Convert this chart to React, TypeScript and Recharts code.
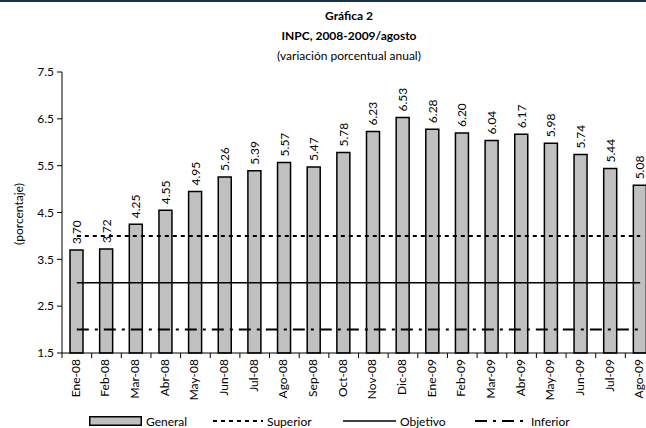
// INPC bar chart with target band lines (Superior / Objetivo / Inferior).
// Excel-style look: grey bars with black outline, rotated value labels,
// month ticks sitting on the category boundaries.

import { Bar, ComposedChart, LabelList, Line, XAxis, YAxis } from "recharts";

const MONTHS = [
  "Ene-08", "Feb-08", "Mar-08", "Abr-08", "May-08", "Jun-08", "Jul-08",
  "Ago-08", "Sep-08", "Oct-08", "Nov-08", "Dic-08", "Ene-09", "Feb-09",
  "Mar-09", "Abr-09", "May-09", "Jun-09", "Jul-09", "Ago-09",
];
const GENERAL = [
  3.70, 3.72, 4.25, 4.55, 4.95, 5.26, 5.39, 5.57, 5.47, 5.78,
  6.23, 6.53, 6.28, 6.20, 6.04, 6.17, 5.98, 5.74, 5.44, 5.08,
];
const SUPERIOR = MONTHS.map(() => 4);
const OBJETIVO = MONTHS.map(() => 3);
const INFERIOR = MONTHS.map(() => 2);
const Y_TICKS = [1.5, 2.5, 3.5, 4.5, 5.5, 6.5, 7.5];

const FONT = "Lato, 'Liberation Sans', sans-serif";

const data = MONTHS.map((m, i) => ({
  mes: m,
  general: GENERAL[i],
  superior: SUPERIOR[i],
  objetivo: OBJETIVO[i],
  inferior: INFERIOR[i],
}));

function MonthTick(props: any) {
  const { x, y, payload, index } = props;
  const half = payload?.offset || 14.8;
  const tx = x - 1.5;
  return (
    <g>
      <line x1={x + half} x2={x + half} y1={y} y2={y + 5} stroke="#000" />
      {index === 0 && <line x1={x - half} x2={x - half} y1={y} y2={y + 5} stroke="#000" />}
      <text
        x={tx}
        y={y + 6}
        transform={`rotate(-90 ${tx} ${y + 6})`}
        textAnchor="end"
        dominantBaseline="central"
        fontSize={12}
        fontFamily={FONT}
        fill="#000"
      >
        {payload.value}
      </text>
    </g>
  );
}

function ValueLabel(props: any) {
  const { x, y, width, value } = props;
  const cx = x + width / 2;
  const ty = y - 6;
  return (
    <text
      x={cx}
      y={ty}
      transform={`rotate(-90 ${cx} ${ty})`}
      textAnchor="start"
      dominantBaseline="central"
      fontSize={12}
      fontFamily={FONT}
      fill="#000"
    >
      {Number(value).toFixed(2)}
    </text>
  );
}

function LegendItem({ left, label, icon }: { left: number; label: string; icon: any }) {
  return (
    <div style={{ position: "absolute", left, top: 413, display: "flex", alignItems: "center", height: 16 }}>
      {icon}
      <span style={{ marginLeft: 4, fontSize: 12, fontFamily: FONT }}>{label}</span>
    </div>
  );
}

export default function App() {
  return (
    <div
      style={{
        position: "fixed",
        left: 0,
        top: 0,
        width: 646,
        height: 428,
        overflow: "hidden",
        background: "#fff",
        fontFamily: FONT,
        color: "#000",
      }}
    >
      <div style={{ position: "absolute", left: 0, top: 0, width: 646, height: 2, background: "#16344f" }} />
      <div style={{ position: "absolute", left: 249, width: 200, top: 6, textAlign: "center", fontSize: 12, lineHeight: "20px" }}>
        <div style={{ fontWeight: 700 }}>Gráfica 2</div>
        <div style={{ fontWeight: 700 }}>INPC, 2008-2009/agosto</div>
        <div>(variación porcentual anual)</div>
      </div>

      <ComposedChart
        width={660}
        height={428}
        data={data}
        margin={{ top: 72, right: 5, bottom: 0, left: 0 }}
        style={{ position: "absolute", left: 0, top: 0 }}
      >
        <XAxis
          dataKey="mes"
          interval={0}
          height={75}
          tickLine={false}
          tickSize={0}
          tickMargin={0}
          axisLine={{ stroke: "#000" }}
          tick={<MonthTick />}
        />
        <YAxis
          domain={[1.5, 7.5]}
          ticks={Y_TICKS}
          width={62}
          tickSize={5}
          tickMargin={3}
          axisLine={{ stroke: "#000" }}
          tickLine={{ stroke: "#000" }}
          tick={{ fontSize: 12, fill: "#000", fontFamily: FONT }}
          tickFormatter={(v: number) => v.toFixed(1)}
          label={{
            content: () => (
              <text x={18} y={214} transform="rotate(-90 18 214)" textAnchor="middle" dominantBaseline="central" fontSize={12} fontFamily={FONT}>
                (porcentaje)
              </text>
            ),
          }}
        />
        <Bar dataKey="general" barSize={13} fill="#c0c0c0" stroke="#000" strokeWidth={1.5} isAnimationActive={false}>
          <LabelList dataKey="general" content={<ValueLabel />} />
        </Bar>
        <Line dataKey="superior" stroke="#000" strokeWidth={2} strokeDasharray="4 4" dot={false} isAnimationActive={false} />
        <Line dataKey="objetivo" stroke="#000" strokeWidth={1.5} dot={false} isAnimationActive={false} />
        <Line dataKey="inferior" stroke="#000" strokeWidth={2} strokeDasharray="12 6 3 6" dot={false} isAnimationActive={false} />
      </ComposedChart>

      <LegendItem
        left={89}
        label="General"
        icon={<svg width={53} height={10}><rect x={0.75} y={0.75} width={51.5} height={8.5} fill="#c0c0c0" stroke="#000" strokeWidth={1.5} /></svg>}
      />
      <LegendItem
        left={213}
        label="Superior"
        icon={<svg width={50} height={10}><line x1={0} x2={50} y1={5} y2={5} stroke="#000" strokeWidth={2} strokeDasharray="4 4" /></svg>}
      />
      <LegendItem
        left={343}
        label="Objetivo"
        icon={<svg width={53} height={10}><line x1={0} x2={53} y1={5} y2={5} stroke="#000" strokeWidth={1.5} /></svg>}
      />
      <LegendItem
        left={475}
        label="Inferior"
        icon={<svg width={52} height={10}><line x1={0} x2={52} y1={5} y2={5} stroke="#000" strokeWidth={2} strokeDasharray="12 6 3 6" /></svg>}
      />
    </div>
  );
}
